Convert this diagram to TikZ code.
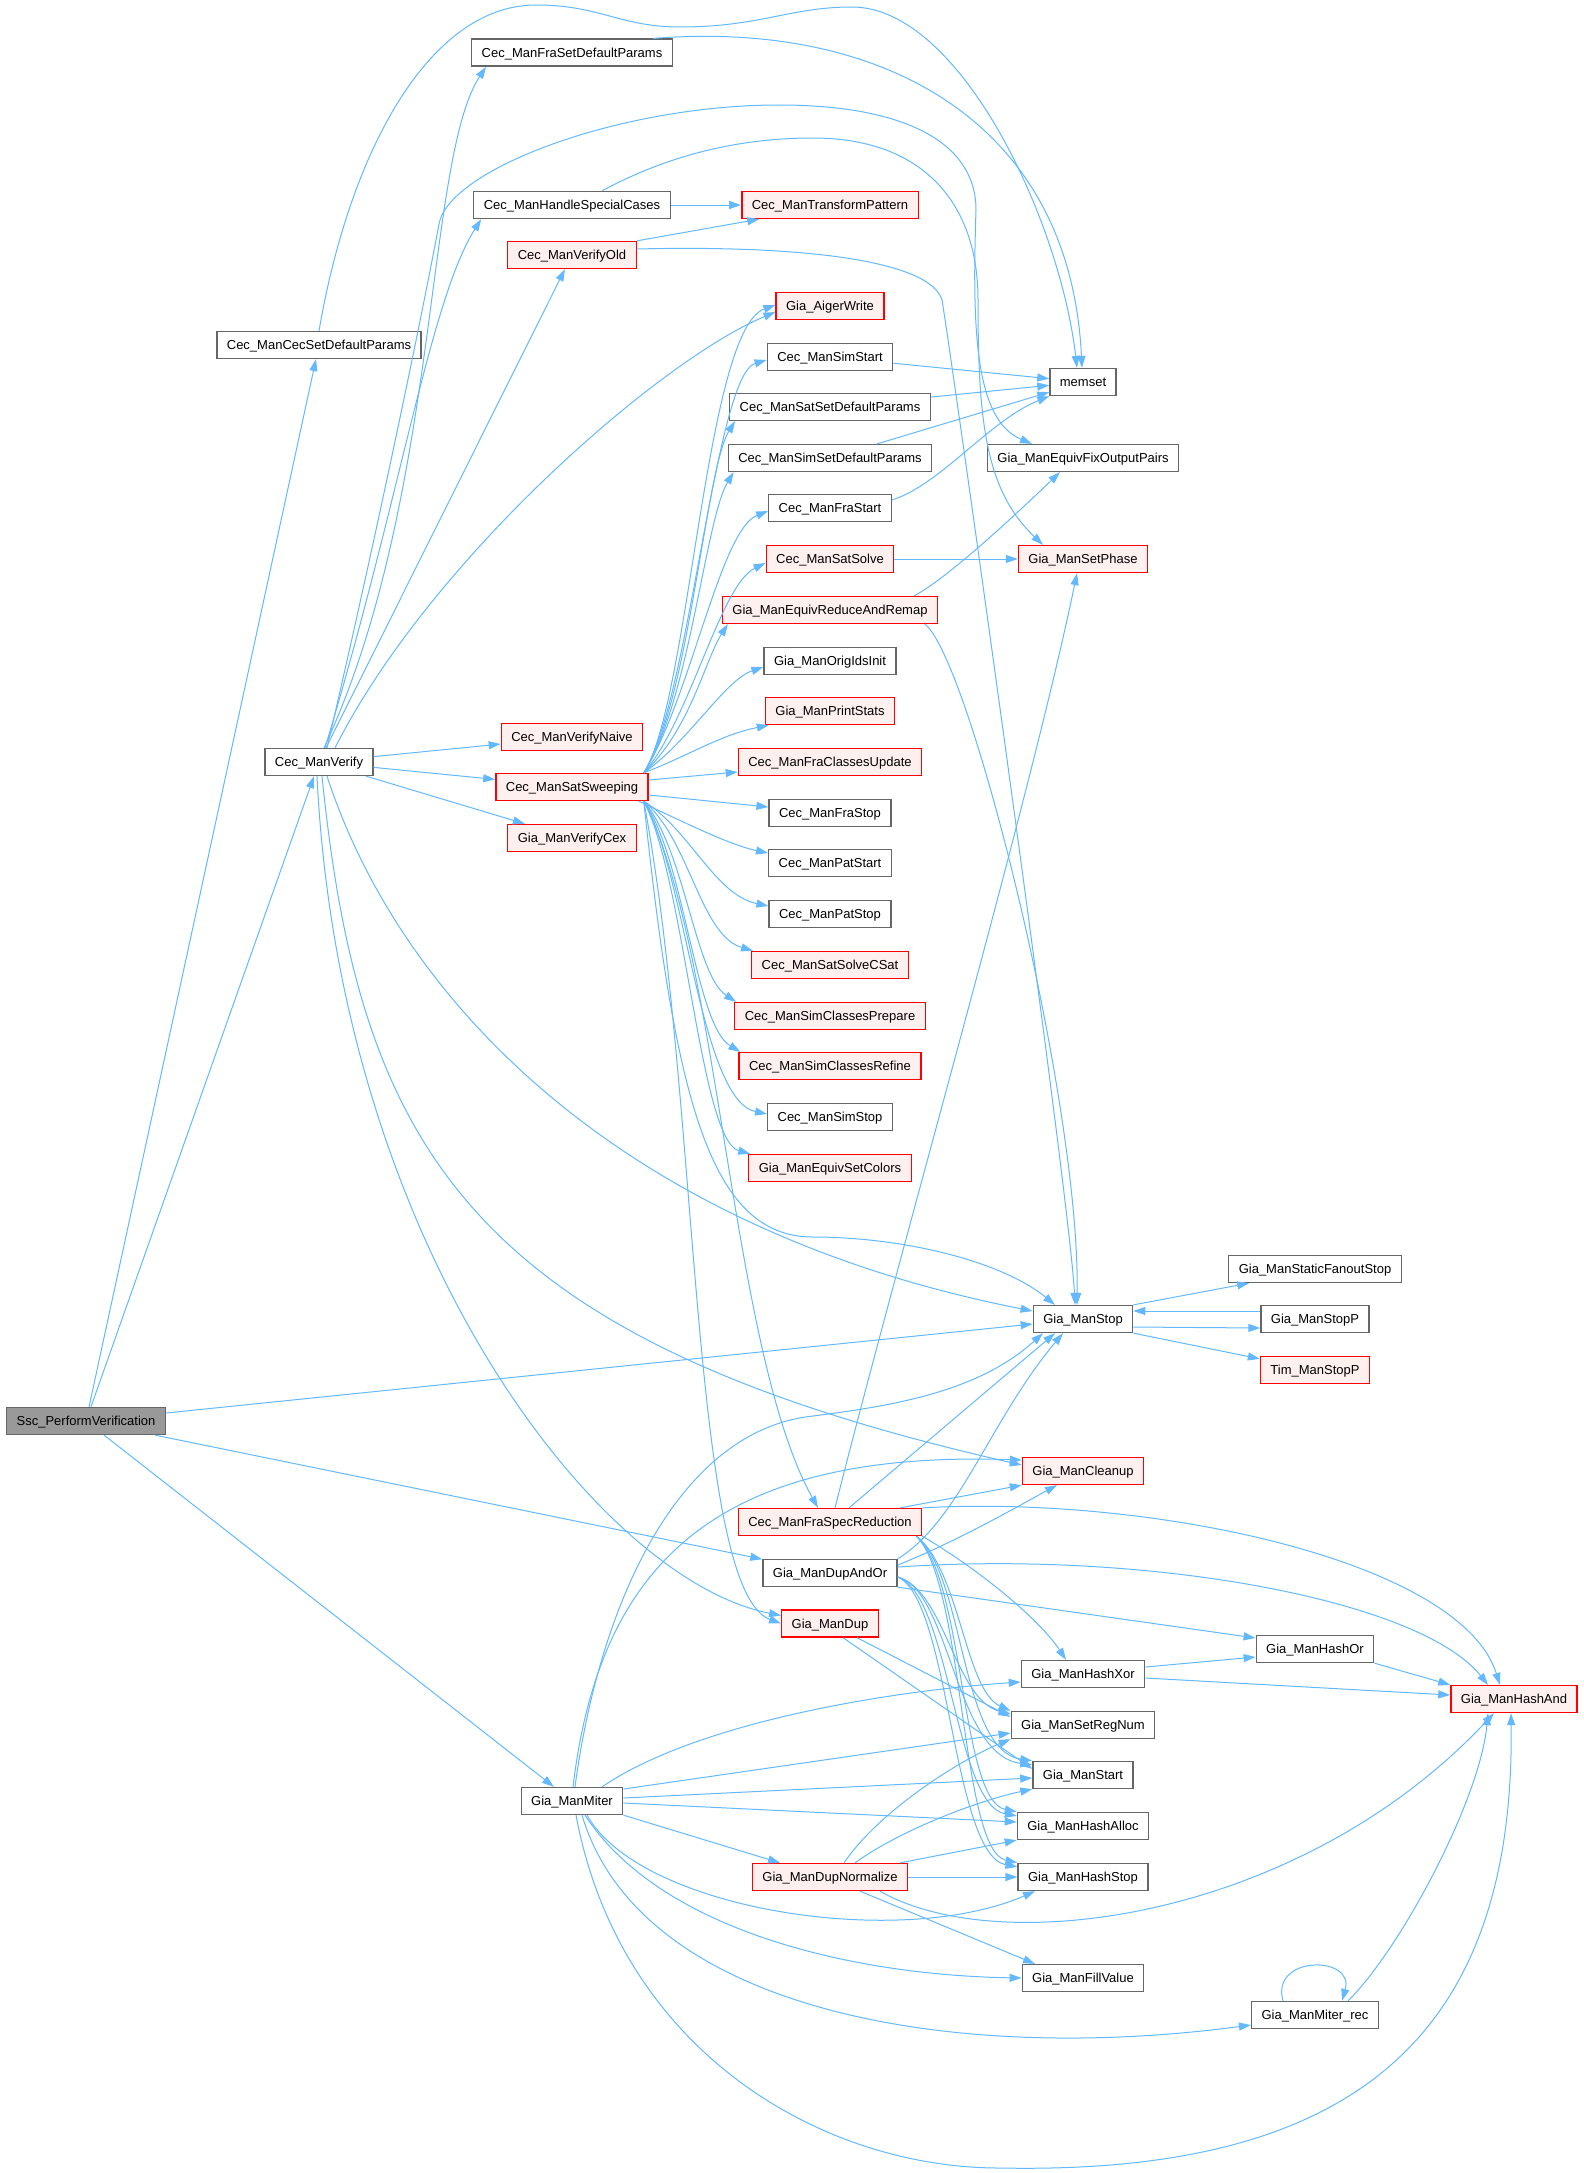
\documentclass[tikz,border=0pt]{standalone}
\usepackage{fontspec}
\setmainfont{Liberation Sans}
\usetikzlibrary{arrows.meta}
\definecolor{edgeblue}{HTML}{63B8FF}
\definecolor{nodegray}{HTML}{666666}
\definecolor{rootfill}{HTML}{999999}
\definecolor{redfill}{HTML}{FFF0F0}
\tikzset{
  fn/.style={draw=nodegray, fill=white, line width=1.3pt, minimum height=27pt, inner xsep=10pt, inner ysep=0pt, text height=9.4pt, text depth=0pt, font=\fontsize{13}{15}\selectfont},
  fnred/.style={fn, draw=red, fill=redfill},
  fnroot/.style={fn, fill=rootfill},
  arr/.style={-{Triangle[length=12pt,width=8pt]}, draw=edgeblue, line width=1pt},
}
\begin{document}
\begin{tikzpicture}[x=1pt,y=-1pt]
\useasboundingbox (0,0) rectangle (1583,2173);

% Root and its direct callees
\node[fnroot] (ssc) at (86,1421) {Ssc\_PerformVerification};
\node[fn] (ccsdp) at (319,345) {Cec\_ManCecSetDefaultParams};
\node[fn] (verify) at (319,762) {Cec\_ManVerify};
\node[fn] (miter) at (572,1801) {Gia\_ManMiter};

% Callees of Cec_ManVerify
\foreach \nm/\sty/\y/\lab in {
  frasdp/fn/52.6/Cec\_ManFraSetDefaultParams,
  hsc/fn/205/Cec\_ManHandleSpecialCases,
  vold/fnred/255/Cec\_ManVerifyOld,
  vnaive/fnred/737/Cec\_ManVerifyNaive,
  satsw/fnred/787/Cec\_ManSatSweeping,
  vcex/fnred/838/Gia\_ManVerifyCex} {
  \node[\sty] (\nm) at (572,\y) {\lab};
}

% Middle column
\foreach \nm/\sty/\y/\lab in {
  tpat/fnred/205/Cec\_ManTransformPattern,
  aiger/fnred/306/Gia\_AigerWrite,
  simstart/fn/357/Cec\_ManSimStart,
  satsdp/fn/407/Cec\_ManSatSetDefaultParams,
  simsdp/fn/458/Cec\_ManSimSetDefaultParams,
  frastart/fn/508/Cec\_ManFraStart,
  satsolve/fnred/559/Cec\_ManSatSolve,
  eqrr/fnred/610/Gia\_ManEquivReduceAndRemap,
  origids/fn/661/Gia\_ManOrigIdsInit,
  pstats/fnred/711/Gia\_ManPrintStats,
  fcupd/fnred/762/Cec\_ManFraClassesUpdate,
  frastop/fn/813/Cec\_ManFraStop,
  patstart/fn/863/Cec\_ManPatStart,
  patstop/fn/914/Cec\_ManPatStop,
  csat/fnred/965/Cec\_ManSatSolveCSat,
  scprep/fnred/1016/Cec\_ManSimClassesPrepare,
  scref/fnred/1066/Cec\_ManSimClassesRefine,
  simstop/fn/1117/Cec\_ManSimStop,
  eqcol/fnred/1168/Gia\_ManEquivSetColors,
  fsr/fnred/1522/Cec\_ManFraSpecReduction,
  dupandor/fn/1573/Gia\_ManDupAndOr,
  dup/fnred/1623.5/Gia\_ManDup,
  dupnorm/fnred/1877/Gia\_ManDupNormalize} {
  \node[\sty] (\nm) at (830,\y) {\lab};
}

% Leaf column
\foreach \nm/\sty/\y/\lab in {
  memset/fn/382/memset,
  eqfix/fn/458/Gia\_ManEquivFixOutputPairs,
  setphase/fnred/559/Gia\_ManSetPhase,
  mstop/fn/1319/Gia\_ManStop,
  cleanup/fnred/1471/Gia\_ManCleanup,
  hxor/fn/1674/Gia\_ManHashXor,
  setreg/fn/1725/Gia\_ManSetRegNum,
  mstart/fn/1775/Gia\_ManStart,
  halloc/fn/1826/Gia\_ManHashAlloc,
  hstop/fn/1877/Gia\_ManHashStop,
  fillv/fn/1978/Gia\_ManFillValue} {
  \node[\sty] (\nm) at (1083,\y) {\lab};
}

\foreach \nm/\sty/\y/\lab in {
  sfstop/fn/1269/Gia\_ManStaticFanoutStop,
  stopp/fn/1319/Gia\_ManStopP,
  timstop/fnred/1370/Tim\_ManStopP,
  hor/fn/1649/Gia\_ManHashOr,
  mrec/fn/2015/Gia\_ManMiter\_rec} {
  \node[\sty] (\nm) at (1315,\y) {\lab};
}
\node[fnred] (hand) at (1514,1699) {Gia\_ManHashAnd};

% Ssc_PerformVerification
\draw[arr] (ssc) -- (ccsdp);
\draw[arr] (ssc) -- (verify);
\draw[arr] ([yshift=8pt]ssc.east) -- ([yshift=-5pt]mstop.west);
\draw[arr] (ssc) -- (dupandor);
\draw[arr] (ssc) -- (miter);

% parameter setup
\draw[arr] (ccsdp.north) .. controls (350,150) and (430,5) .. (536,5)
  .. controls (600,5) and (620,27) .. (680,27)
  .. controls (760,27) and (790,7) .. (852,7)
  .. controls (960,7) and (1060,220) .. ([xshift=-6pt]memset.north);
\draw[arr] ([xshift=81pt]frasdp.north) .. controls (880,20) and (1070,120) .. ([xshift=-1pt]memset.north);

% Cec_ManVerify
\draw[arr] (verify) -- (vnaive);
\draw[arr] (verify) -- (satsw);
\draw[arr] (verify) -- (vcex);
\draw[arr] (verify) -- (vold);
\draw[arr] ([xshift=5pt]verify.north) .. controls (440,500) and (425,160) .. ([xshift=15pt]frasdp.south west);
\draw[arr] ([xshift=6pt]verify.north) .. controls (400,500) and (430,300) .. ([xshift=8pt]hsc.south west);
\draw[arr] ([xshift=8pt]verify.north) .. controls (380,520) and (425,300) .. (439,224)
  .. controls (449,169) and (620,105) .. (779,105)
  .. controls (900,105) and (976,140) .. (976,210)
  .. controls (972,330) and (975,420) .. ([xshift=-51pt]eqfix.north);
\draw[arr] ([xshift=16pt]verify.north) .. controls (430,560) and (660,360) .. ([yshift=-6pt]aiger.west);
\draw[arr] ([xshift=8pt]verify.south) .. controls (400,1000) and (620,1230) .. ([yshift=8pt]mstop.west);
\draw[arr] ([xshift=3pt]verify.south) .. controls (360,1150) and (470,1340) .. ([yshift=6pt]cleanup.west);
\draw[arr] ([xshift=-2pt]verify.south) .. controls (340,1250) and (600,1580) .. ([yshift=8pt]dup.west);

% Cec_ManHandleSpecialCases, Cec_ManVerifyOld
\draw[arr] (hsc) -- (tpat);
\draw[arr] ([xshift=30pt]hsc.north) .. controls (650,165) and (720,138) .. (813,138)
  .. controls (920,138) and (978,200) .. (978,300)
  .. controls (978,420) and (985,490) .. ([xshift=-40pt]setphase.north);
\draw[arr] (vold.north east) -- ([xshift=18pt]tpat.south west);
\draw[arr] ([yshift=6pt]vold.east) .. controls (800,245) and (930,260) .. (942,300)
  .. controls (955,380) and (1070,1200) .. ([xshift=-8pt]mstop.north);

% Cec_ManSatSweeping
\draw[arr] ([xshift=-5pt]satsw.north east) .. controls (690,700) and (705,330) .. ([yshift=1pt]aiger.west);
\draw[arr] ([xshift=-5pt]satsw.north east) .. controls (690,700) and (715,375) .. ([yshift=-3pt]simstart.west);
\draw[arr] ([xshift=-5pt]satsw.north east) .. controls (690,700) and (705,470) .. ([xshift=6pt]satsdp.south west);
\draw[arr] ([xshift=-5pt]satsw.north east) .. controls (690,700) and (705,520) .. ([xshift=6pt]simsdp.south west);
\draw[arr] ([xshift=-5pt]satsw.north east) .. controls (690,700) and (720,530) .. ([yshift=-3pt]frastart.west);
\draw[arr] ([xshift=-5pt]satsw.north east) .. controls (690,720) and (720,585) .. ([yshift=-4pt]satsolve.west);
\draw[arr] ([xshift=-5pt]satsw.north east) .. controls (690,730) and (705,660) .. ([xshift=6pt]eqrr.south west);
\draw[arr] ([xshift=-5pt]satsw.north east) .. controls (690,740) and (725,680) .. ([yshift=-6pt]origids.west);
\draw[arr] ([xshift=-5pt]satsw.north east) .. controls (690,755) and (720,735) .. ([xshift=4pt]pstats.south west);
\draw[arr] ([yshift=7pt]satsw.east) -- ([yshift=-10pt]fcupd.west);
\draw[arr] ([yshift=-8pt]satsw.east) -- ([yshift=6pt]frastop.west);
\draw[arr] ([xshift=-10pt]satsw.south east) .. controls (690,825) and (730,845) .. ([yshift=10pt]patstart.west);
\draw[arr] ([xshift=-5pt]satsw.south east) .. controls (690,830) and (715,895) .. ([yshift=8pt]patstop.west);
\draw[arr] ([xshift=-5pt]satsw.south east) .. controls (690,840) and (700,935) .. ([xshift=2pt]csat.north west);
\draw[arr] ([xshift=-5pt]satsw.south east) .. controls (685,850) and (695,975) .. ([xshift=2pt]scprep.north west);
\draw[arr] ([xshift=-5pt]satsw.south east) .. controls (685,860) and (695,1025) .. ([xshift=2pt]scref.north west);
\draw[arr] ([xshift=-5pt]satsw.south east) .. controls (685,870) and (700,1100) .. ([yshift=3pt]simstop.west);
\draw[arr] ([xshift=-5pt]satsw.south east) .. controls (685,880) and (700,1140) .. ([xshift=2pt]eqcol.north west);
\draw[arr] ([xshift=-5pt]satsw.south east) .. controls (675,1100) and (710,1237) .. (813,1237)
  .. controls (900,1237) and (1000,1260) .. ([xshift=-28pt]mstop.north);
\draw[arr] ([xshift=-5pt]satsw.south east) .. controls (720,950) and (730,1350) .. ([xshift=-12pt]fsr.north);
\draw[arr] ([xshift=-5pt]satsw.south east) .. controls (700,1100) and (690,1590) .. (dup.west);

% into memset, Gia_ManSetPhase, Gia_ManEquivFixOutputPairs
\draw[arr] (simstart) -- (memset);
\draw[arr] (satsdp) -- (memset);
\draw[arr] (simsdp) -- (memset);
\draw[arr] ([yshift=8pt]frastart.east) .. controls (940,485) and (990,420) .. (memset.south west);
\draw[arr] (satsolve) -- (setphase);
\draw[arr] ([xshift=84pt]eqrr.north) .. controls (945,580) and (1010,520) .. ([xshift=-23pt]eqfix.south);
\draw[arr] ([xshift=95pt]eqrr.south) .. controls (970,660) and (1080,1100) .. ([xshift=-6pt]mstop.north);

% Gia_ManStop
\draw[arr] (mstop.north east) -- ([xshift=21pt]sfstop.south west);
\draw[arr] ([yshift=-8pt]mstop.east) -- ([yshift=-9pt]stopp.west);
\draw[arr] ([yshift=8pt]stopp.west) -- ([yshift=8pt]mstop.east);
\draw[arr] (mstop.south east) -- ([yshift=-3pt]timstop.north west);

% Cec_ManFraSpecReduction
\draw[arr] ([xshift=5pt]fsr.north) .. controls (900,1250) and (1030,800) .. ([xshift=-6pt]setphase.south);
\draw[arr] ([xshift=19pt]fsr.north) -- ([xshift=-28pt]mstop.south);
\draw[arr] ([xshift=70pt]fsr.north) -- (cleanup.south west);
\draw[arr] (fsr.north east) .. controls (1150,1495) and (1460,1560) .. ([xshift=-14pt]hand.north);
\draw[arr] (fsr.south east) .. controls (980,1570) and (1040,1620) .. ([xshift=-17pt]hxor.north);
\draw[arr] ([xshift=-6pt]fsr.south east) .. controls (960,1570) and (965,1690) .. (setreg.north west);
\draw[arr] ([xshift=-6pt]fsr.south east) .. controls (965,1575) and (960,1750) .. (mstart.north west);
\draw[arr] ([xshift=-6pt]fsr.south east) .. controls (965,1580) and (960,1800) .. (halloc.north west);
\draw[arr] ([xshift=-6pt]fsr.south east) .. controls (965,1585) and (960,1850) .. (hstop.north west);

% Gia_ManDupAndOr
\draw[arr] (dupandor.north east) .. controls (960,1520) and (990,1420) .. ([xshift=-20pt]mstop.south);
\draw[arr] ([yshift=8pt]dupandor.east) .. controls (960,1540) and (1020,1505) .. ([xshift=-26pt]cleanup.south);
\draw[arr] ([yshift=6pt]dupandor.east) .. controls (1150,1550) and (1420,1600) .. ([xshift=-26pt]hand.north);
\draw[arr] (dupandor.south east) -- ([yshift=11pt]hor.west);
\draw[arr] ([yshift=-4pt]dupandor.east) .. controls (945,1590) and (955,1700) .. ([yshift=-3pt]setreg.north west);
\draw[arr] ([yshift=-4pt]dupandor.east) .. controls (950,1590) and (955,1755) .. ([yshift=-4pt]mstart.north west);
\draw[arr] ([yshift=-4pt]dupandor.east) .. controls (950,1595) and (955,1805) .. ([yshift=-4pt]halloc.north west);
\draw[arr] ([yshift=-4pt]dupandor.east) .. controls (950,1600) and (952,1855) .. ([yshift=-4pt]hstop.north west);

% Gia_ManDup
\draw[arr] ([xshift=27pt]dup.south) -- ([yshift=-6pt]setreg.north west);
\draw[arr] ([xshift=13pt]dup.south) -- ([yshift=-8pt]mstart.north west);

% Gia_ManMiter
\draw[arr] ([xshift=3pt]miter.north) .. controls (600,1600) and (680,1430) .. (813,1416)
  .. controls (900,1405) and (980,1390) .. ([xshift=-40pt]mstop.south);
\draw[arr] ([xshift=1pt]miter.north) .. controls (600,1560) and (720,1450) .. ([yshift=11pt]cleanup.west);
\draw[arr] ([xshift=30pt]miter.north) .. controls (700,1720) and (900,1690) .. ([yshift=-8pt]hxor.west);
\draw[arr] ([yshift=12pt]miter.east) -- ([yshift=-8pt]setreg.west);
\draw[arr] ([yshift=3pt]miter.east) -- ([yshift=-3pt]mstart.west);
\draw[arr] ([yshift=-2pt]miter.east) -- ([yshift=4pt]halloc.west);
\draw[arr] (miter.south east) -- ([xshift=-50pt]dupnorm.north);
\draw[arr] ([xshift=15pt]miter.south) .. controls (640,1910) and (900,1950) .. ([xshift=-48pt]hstop.south);
\draw[arr] ([xshift=13pt]miter.south) .. controls (660,1930) and (850,1975) .. (fillv.west);
\draw[arr] ([xshift=10pt]miter.south) .. controls (640,2010) and (950,2065) .. ([yshift=-10pt]mrec.west);
\draw[arr] ([xshift=4pt]miter.south) .. controls (620,2050) and (820,2168) .. (1000,2168)
  .. controls (1350,2175) and (1515,2040) .. ([xshift=-3pt]hand.south);

% Gia_ManDupNormalize
\draw[arr] ([xshift=14pt]dupnorm.north) .. controls (880,1810) and (960,1760) .. (setreg.south west);
\draw[arr] ([xshift=25pt]dupnorm.north) .. controls (900,1830) and (980,1800) .. (mstart.south west);
\draw[arr] ([xshift=70pt]dupnorm.north) -- (halloc.south west);
\draw[arr] (dupnorm) -- (hstop);
\draw[arr] ([xshift=50pt]dupnorm.south) .. controls (1000,1960) and (1300,1920) .. ([xshift=-20pt]hand.south);
\draw[arr] ([xshift=30pt]dupnorm.south) -- ([xshift=-48pt]fillv.north);

% hashing
\draw[arr] ([yshift=7pt]hxor.east) -- ([yshift=-8pt]hor.west);
\draw[arr] ([yshift=-4pt]hxor.east) -- ([yshift=4pt]hand.west);
\draw[arr] (hor.south east) -- (hand.north west);
\draw[arr] ([xshift=33pt]mrec.north) .. controls (1400,1950) and (1480,1800) .. ([xshift=-26pt]hand.south);
\draw[arr] ([xshift=-32pt]mrec.north) .. controls (1270,1955) and (1355,1955) .. ([xshift=27pt]mrec.north);

\end{tikzpicture}
\end{document}
